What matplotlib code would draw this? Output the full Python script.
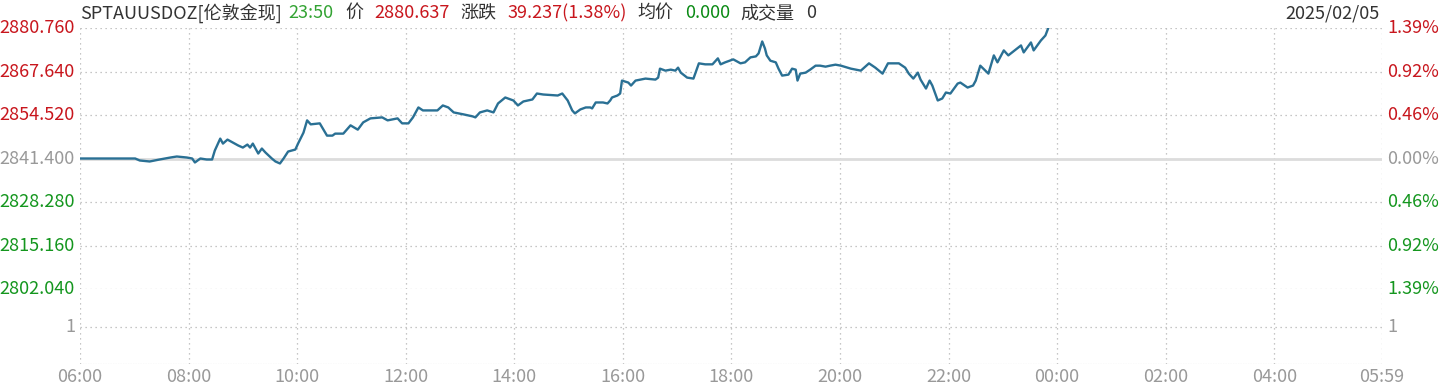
import matplotlib
matplotlib.use("Agg")
import matplotlib.pyplot as plt

plt.rcParams['font.family'] = ['Noto Sans CJK SC', 'DejaVu Sans']

# minutes since 06:00 and price
minutes = [0, 61, 66, 77, 88, 100, 107, 118, 124, 127, 133, 140, 146, 149, 155, 158, 163, 169, 175, 180,
           185, 188, 191, 197, 201, 205, 212, 216, 221, 225, 230, 238, 241, 247, 251, 255, 265, 273, 279, 282,
           291, 299, 307, 313, 321, 334, 340, 351, 356, 363, 368, 374, 379, 395, 401, 407, 413, 424, 434, 437,
           442, 450, 457, 462, 470, 479, 484, 490, 500, 505, 512, 528, 533, 539, 544, 547, 553, 559, 564, 566,
           570, 578, 583, 586, 588, 594, 597, 599, 606, 609, 614, 625, 636, 639, 641, 647, 653, 658, 661, 664,
           671, 678, 684, 691, 699, 705, 708, 713, 722, 730, 735, 741, 747, 750, 754, 757, 759, 763, 769, 772,
           776, 783, 787, 791, 793, 796, 802, 807, 813, 818, 824, 829, 835, 841, 852, 863, 872, 879, 887, 893,
           905, 912, 916, 921, 926, 929, 935, 939, 942, 948, 953, 957, 962, 970, 973, 981, 987, 990, 995, 1004,
           1010, 1014, 1021, 1026, 1040, 1043, 1051, 1054, 1062, 1067, 1070]
prices = [2841.4, 2841.4, 2840.8, 2840.5, 2841.1, 2841.7, 2842.0, 2841.7, 2841.4, 2840.2, 2841.4, 2841.1, 2841.1, 2843.8, 2847.4, 2845.9, 2847.1, 2846.2, 2845.3, 2844.7,
          2845.6, 2844.7, 2845.9, 2842.9, 2844.4, 2843.2, 2841.4, 2840.5, 2839.9, 2841.4, 2843.5, 2844.1, 2845.9, 2849.2, 2852.9, 2851.7, 2852.0, 2848.3, 2848.3, 2848.9,
          2848.9, 2851.4, 2850.1, 2852.3, 2853.5, 2853.8, 2852.9, 2853.5, 2852.0, 2852.0, 2853.8, 2856.8, 2855.9, 2855.9, 2857.4, 2856.8, 2855.3, 2854.7, 2854.1, 2853.8,
          2855.3, 2855.9, 2855.3, 2858.0, 2859.8, 2858.9, 2857.4, 2858.6, 2859.2, 2861.0, 2860.7, 2860.4, 2861.0, 2858.9, 2855.9, 2855.0, 2856.2, 2856.8, 2856.8, 2856.5,
          2858.3, 2858.3, 2858.0, 2858.9, 2859.8, 2860.4, 2861.0, 2864.9, 2864.3, 2863.4, 2864.9, 2865.5, 2865.2, 2865.8, 2868.5, 2867.9, 2868.2, 2867.9, 2868.8, 2867.3,
          2865.8, 2865.5, 2870.1, 2869.8, 2869.8, 2871.6, 2869.8, 2870.4, 2871.3, 2870.1, 2870.4, 2871.9, 2872.2, 2873.1, 2876.7, 2874.6, 2872.5, 2870.9, 2870.4, 2868.5,
          2866.4, 2866.7, 2868.5, 2868.2, 2864.9, 2867.0, 2867.3, 2868.2, 2869.4, 2869.4, 2869.1, 2869.4, 2869.7, 2869.4, 2868.5, 2867.9, 2870.1, 2868.8, 2867.0, 2870.1,
          2870.1, 2868.8, 2867.0, 2865.5, 2867.3, 2865.2, 2862.5, 2864.9, 2863.4, 2858.9, 2859.5, 2861.3, 2861.0, 2864.0, 2864.3, 2862.8, 2863.4, 2864.9, 2869.4, 2867.0,
          2872.5, 2870.4, 2874.0, 2872.5, 2875.5, 2873.4, 2876.4, 2874.0, 2877.0, 2878.5, 2880.637]

prev_close = 2841.400
price_ticks = [2802.040, 2815.160, 2828.280, 2841.400, 2854.520, 2867.640, 2880.760]
pct_labels = ['1.39%', '0.92%', '0.46%', '0.00%', '0.46%', '0.92%', '1.39%']
time_ticks = [0, 120, 240, 360, 480, 600, 720, 840, 960, 1080, 1200, 1320, 1439]
time_labels = ['06:00', '08:00', '10:00', '12:00', '14:00', '16:00', '18:00', '20:00',
               '22:00', '00:00', '02:00', '04:00', '05:59']

RED = '#c8161d'
GREEN = '#14961e'
GRAY = '#999999'
DARK = '#333333'
GRID = '#b4b4b4'
FS = 13

W, H = 1440, 389
fig = plt.figure(figsize=(14.4, 3.89), dpi=100)

left = 80 / W
width = 1302 / W
# price panel (y 28 .. 289 px), volume panel (289 .. 364 px)
ax = fig.add_axes([left, 1 - 289 / H, width, 261 / H])
axv = fig.add_axes([left, 1 - 364 / H, width, 75 / H])

for a in (ax, axv):
    a.set_xlim(0, 1439)
    for s in a.spines.values():
        s.set_visible(False)
    a.tick_params(length=0)
    for t in time_ticks:
        a.axvline(t, color=GRID, lw=0.9, ls=(0, (1, 3)), zorder=0)

ax.set_ylim(price_ticks[0], price_ticks[-1])
for p in price_ticks:
    if p == prev_close:
        ax.axhline(p, color='#dcdcdc', lw=2, zorder=1)
    else:
        ax.axhline(p, color=GRID, lw=0.9, ls=(0, (1, 3)), zorder=0)
ax.set_xticks([])
ax.set_yticks([])

ax.plot(minutes, prices, color='#2a7094', lw=1.7, zorder=3)

# left / right labels of price panel
dx = 5 / 1302 * 1439
for p, lab in zip(price_ticks, pct_labels):
    c = RED if p > prev_close else (GREEN if p < prev_close else GRAY)
    ax.text(-dx, p, f'{p:.3f}', color=c, fontsize=FS, ha='right', va='center')
    ax.text(1439 + dx, p, lab, color=c, fontsize=FS, ha='left', va='center')

# volume panel
axv.set_ylim(0, 2)
axv.axhline(1, color=GRID, lw=0.9, ls=(0, (1, 3)), zorder=0)
axv.axhline(0, color='#dddddd', lw=0.9, ls=(0, (1, 1)), zorder=0)
axv.set_yticks([])
axv.text(-dx, 1, '1', color=GRAY, fontsize=FS, ha='right', va='center')
axv.text(1439 + dx, 1, '1', color=GRAY, fontsize=FS, ha='left', va='center')
axv.set_xticks(time_ticks)
axv.set_xticklabels(time_labels, color=GRAY, fontsize=FS)
axv.tick_params(axis='x', pad=3)

# header, multicoloured pieces placed one after another
header = [('SPTAUUSDOZ[伦敦金现]', DARK, 0), ('23:50', '#33a333', 7), ('价', DARK, 11),
          ('2880.637', RED, 11), ('涨跌', DARK, 11), ('39.237(1.38%)', RED, 11),
          ('均价', DARK, 11), ('0.000', '#0a8a14', 11), ('成交量', DARK, 11), ('0', DARK, 11)]
fig.canvas.draw()
r = fig.canvas.get_renderer()
x = 80
for s, c, gap in header:
    x += gap
    t = fig.text(x / W, 1 - 13 / H, s, color=c, fontsize=FS, ha='left', va='center')
    x += t.get_window_extent(renderer=r).width
fig.text(1380 / W, 1 - 13 / H, '2025/02/05', color=DARK, fontsize=FS, ha='right', va='center')

fig.savefig('out.png', dpi=100)
